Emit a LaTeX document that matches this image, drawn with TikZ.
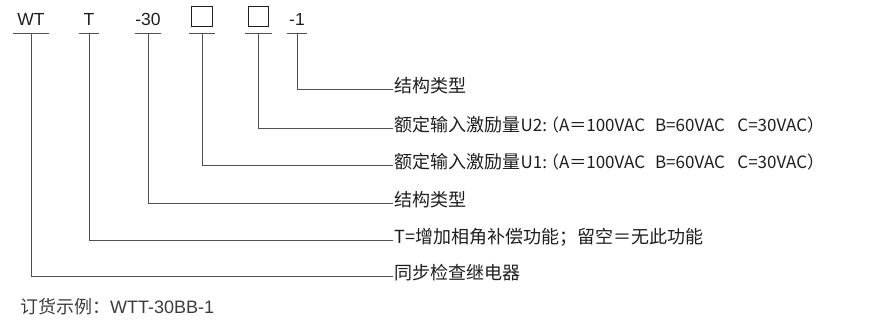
\documentclass[tikz,border=0pt]{standalone}
\usepackage{fontspec}
\setmainfont{Liberation Sans}
\newfontfamily\cjk{Noto Sans CJK SC}
\usetikzlibrary{positioning}
\definecolor{linegray}{RGB}{80,80,80}
\definecolor{txtdark}{RGB}{30,30,30}
\definecolor{txtsoft}{RGB}{60,60,60}
\newcommand{\latn}[1]{{\fontsize{17}{20}\selectfont #1}}
\tikzset{
    % model code parts (top row)
    codepart/.style={minimum width=#1, inner xsep=0pt, inner ysep=0pt,
                text height=12.5pt, text depth=7.5pt, anchor=south,
                font=\fontsize{17.5}{20}\selectfont, text=txtdark},
    sqbox/.style={draw=txtdark, line width=1pt, minimum size=20.5pt, inner sep=0pt},
    % explanation labels
    desc/.style={anchor=west, inner xsep=1.5pt, inner ysep=0pt,
                text height=0.88em, text depth=0.12em,
                font=\cjk\fontsize{18}{21}\selectfont, text=txtdark},
    lnk/.style={draw=linegray, line width=1pt},
}
\begin{document}
\begin{tikzpicture}[x=1pt, y=-1pt]
\useasboundingbox (0,0) rectangle (872,335);
% code row
\node[codepart=36pt] (wt)  at (31,33)    {WT};
\node[codepart=20pt] (t)   at (89,33)    {T};
\node[codepart=26pt] (n30) at (148,33)   {-30};
\node[codepart=26pt] (ua)  at (202,33)   {};
\node[codepart=27pt] (ub)  at (258.5,33) {};
\node[codepart=20pt] (n1)  at (297,33)   {-1};
\node[sqbox, above=6pt of ua.south] (ua-sq) {};
\node[sqbox, above=6pt of ub.south] (ub-sq) {};
\foreach \p in {wt,t,n30,ua,ub,n1}
    \draw[lnk] (\p.south west) -- (\p.south east);
% explanations
\node[desc] (d1) at (393,89)  {结构类型};
\node[desc] (d2) at (393,128) {额定输入激励量\latn{U2:\hspace{-0.3em}（A＝100VAC\hspace{0.58em}B=60VAC\hspace{0.73em}C=30VAC）}};
\node[desc] (d3) at (393,165) {额定输入激励量\latn{U1:\hspace{-0.3em}（A＝100VAC\hspace{0.58em}B=60VAC\hspace{0.73em}C=30VAC）}};
\node[desc] (d4) at (393,203) {结构类型};
\node[desc] (d5) at (393,240) {T=增加相角补偿功能；留空＝无此功能};
\node[desc] (d6) at (393,276) {同步检查继电器};
\foreach \a/\b in {n1/d1, ub/d2, ua/d3, n30/d4, t/d5, wt/d6}
    \draw[lnk] (\a.south) |- (\b.west);
% ordering example
\node[anchor=west, inner xsep=0pt, font=\fontsize{18}{21}\selectfont, text=txtsoft]
    (ex) at (20,307) {{\cjk 订货示例：}WTT-30BB-1};
\end{tikzpicture}
\end{document}
